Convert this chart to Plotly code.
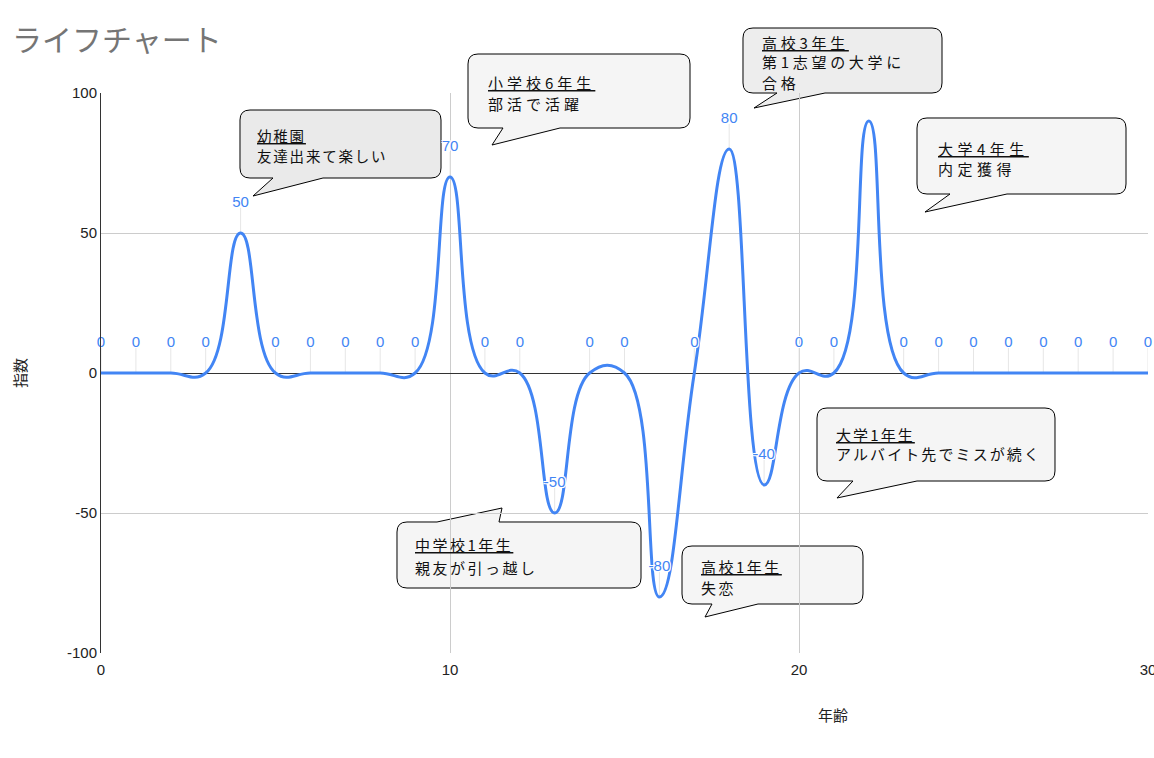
import plotly.graph_objects as go

# ---------------- data ----------------
ages = list(range(0, 31))
scores = [0, 0, 0, 0, 50, 0, 0, 0, 0, 0, 70, 0, 0, -50, 0, 0, -80, 0, 80, -40,
          0, 0, 90, 0, 0, 0, 0, 0, 0, 0, 0]
point_labels = ["0", "0", "0", "0", "50", "0", "0", "0", "0", "0", "70", "0", "0", "-50",
                "0", "0", "-80", "0", "80", "-40", "0", "0", "", "0", "0", "0", "0", "0",
                "0", "0", "0"]

bubble_titles = ["幼稚園", "小学校6年生", "中学校1年生", "高校1年生", "高校3年生", "大学1年生", "大学4年生"]
bubble_lines = [["友達出来て楽しい"], ["部活で活躍"], ["親友が引っ越し"], ["失恋"],
                ["第1志望の大学に", "合格"], ["アルバイト先でミスが続く"], ["内定獲得"]]

chart_title = "ライフチャート"
x_title = "年齢"
y_title = "指数"
x_ticks = [0, 10, 20, 30]
x_ticktext = ["0", "10", "20", "30"]
y_ticks = [-100, -50, 0, 50, 100]
y_ticktext = ["-100", "-50", "0", "50", "100"]

# ---------------- layout helpers (pixel -> paper) ----------------
W, H = 1154, 758
L, R, T, B = 101, 1148, 93, 653


def px(x):
    return (x - L) / (R - L)


def py(y):
    return (B - y) / (B - T)


def bubble_path(x0, y0, x1, y1, tail, side="bottom", r=10):
    b1, tip, b2 = tail

    def P(x, y):
        return f"{px(x):.5f},{py(y):.5f}"
    s = f"M {P(x0 + r, y0)} "
    if side == "top":
        s += f"L {P(b1, y0)} L {P(tip[0], tip[1])} L {P(b2, y0)} "
    s += f"L {P(x1 - r, y0)} Q {P(x1, y0)} {P(x1, y0 + r)} "
    s += f"L {P(x1, y1 - r)} Q {P(x1, y1)} {P(x1 - r, y1)} "
    if side == "bottom":
        s += f"L {P(b2, y1)} L {P(tip[0], tip[1])} L {P(b1, y1)} "
    s += f"L {P(x0 + r, y1)} Q {P(x0, y1)} {P(x0, y1 - r)} "
    s += f"L {P(x0, y0 + r)} Q {P(x0, y0)} {P(x0 + r, y0)} Z"
    return s


# bubble geometry (box px, tail, side, fill, text x, line centres, font size, letter spacing)
bubbles = [
    dict(box=(240, 110, 441, 178), tail=(273, (253, 196), 323), side="bottom", fill="#eaeaea",
         tx=256, ty=[136, 155], fs=14.5, ls=1.8),
    dict(box=(468, 54, 690, 128), tail=(503, (492, 145), 560), side="bottom", fill="#f5f5f5",
         tx=487, ty=[82, 103], fs=15, ls=4),
    dict(box=(397, 522, 641, 588), tail=(437, (502, 508), 499), side="top", fill="#f5f5f5",
         tx=414, ty=[544, 567], fs=15, ls=2.5),
    dict(box=(682, 546, 863, 604), tail=(712, (705, 617), 758), side="bottom", fill="#f5f5f5",
         tx=700, ty=[566, 587], fs=15, ls=2.5),
    dict(box=(743, 28, 942, 93), tail=(777, (754, 108), 825), side="bottom", fill="#ededed",
         tx=761, ty=[42, 62, 82], fs=15, ls=3.7),
    dict(box=(817, 408, 1055, 481), tail=(853, (837, 498), 917), side="bottom", fill="#f5f5f5",
         tx=835, ty=[434, 454], fs=15, ls=2.1),
    dict(box=(917, 118, 1126, 194), tail=(950, (925, 212), 1007), side="bottom", fill="#f5f5f5",
         tx=937, ty=[148, 168], fs=15, ls=4.5),
]

FONT = "Arial, 'Liberation Sans', 'Noto Sans CJK JP', sans-serif"
JFONT = "'Noto Sans CJK JP', sans-serif"
BLUE = "#4285f4"

fig = go.Figure()

# stems from points to labels
stem_len = [9 if lab else 0 for lab in point_labels]
fig.add_trace(go.Scatter(
    x=ages, y=scores, mode="markers",
    marker=dict(size=1, opacity=0),
    error_y=dict(type="data", symmetric=False, array=stem_len,
                 arrayminus=[0] * len(ages), color="#e6e6e6", thickness=1, width=0),
    hoverinfo="skip", showlegend=False,
))

# the curve
fig.add_trace(go.Scatter(
    x=ages, y=scores, mode="lines",
    line=dict(color=BLUE, width=3, shape="spline", smoothing=1.3),
    showlegend=False,
))

# data labels
fig.add_trace(go.Scatter(
    x=ages, y=scores, mode="markers+text",
    marker=dict(size=34, opacity=0),
    text=point_labels, textposition="top center",
    textfont=dict(family=FONT, size=15, color=BLUE,
                  shadow="1px 1px 0 #fff, -1px -1px 0 #fff, 1px -1px 0 #fff, -1px 1px 0 #fff"),
    hoverinfo="skip", showlegend=False, cliponaxis=False,
))

shapes = []
annotations = []
for i, b in enumerate(bubbles):
    x0, y0, x1, y1 = b["box"]
    shapes.append(dict(type="path", xref="paper", yref="paper",
                       path=bubble_path(x0, y0, x1, y1, b["tail"], b["side"]),
                       fillcolor=b["fill"], line=dict(color="#000000", width=1),
                       layer="below"))
    texts = [f"<u>{bubble_titles[i]}</u>"] + bubble_lines[i]
    for t, yy in zip(texts, b["ty"]):
        styled = f'<span style="letter-spacing:{b["ls"]}px">{t}</span>'
        annotations.append(dict(xref="paper", yref="paper", x=px(b["tx"]), y=py(yy),
                                xanchor="left", yanchor="middle", showarrow=False,
                                text=styled, align="left", borderpad=0,
                                font=dict(family=JFONT, size=b["fs"], color="#111111")))

annotations.append(dict(xref="paper", yref="paper", x=px(833), y=py(715),
                        xanchor="center", yanchor="middle", showarrow=False,
                        text=x_title, font=dict(family=FONT, size=15, color="#222222")))

fig.update_layout(
    width=W, height=H,
    margin=dict(l=L, r=W - R, t=T, b=H - B, autoexpand=False),
    paper_bgcolor="#ffffff", plot_bgcolor="rgba(0,0,0,0)",
    title=dict(text=chart_title, x=12 / W, xanchor="left", y=1 - 40 / H, yanchor="middle",
               font=dict(family=FONT, size=30, color="#757575")),
    xaxis=dict(range=[0, 30], tickvals=x_ticks, ticktext=x_ticktext, showgrid=True,
               gridcolor="#cccccc", zeroline=False, showline=False, automargin=False,
               tickfont=dict(family=FONT, size=15, color="#222222"), ticks="",
               ticklabelstandoff=6, ticklabeloverflow="allow"),
    yaxis=dict(range=[-100, 100], tickvals=y_ticks, ticktext=y_ticktext, showgrid=True,
               gridcolor="#cccccc", automargin=False,
               zeroline=True, zerolinecolor="#333333", zerolinewidth=1,
               showline=True, linecolor="#333333", linewidth=1,
               tickfont=dict(family=FONT, size=15, color="#222222"), ticks="",
               title=dict(text=y_title, font=dict(family=FONT, size=15, color="#222222"),
                          standoff=36)),
    shapes=shapes, annotations=annotations, showlegend=False,
)

fig.write_html("out.html", config={"displayModeBar": False},
               post_script="document.body.style.margin='0';document.body.style.overflow='hidden';")
